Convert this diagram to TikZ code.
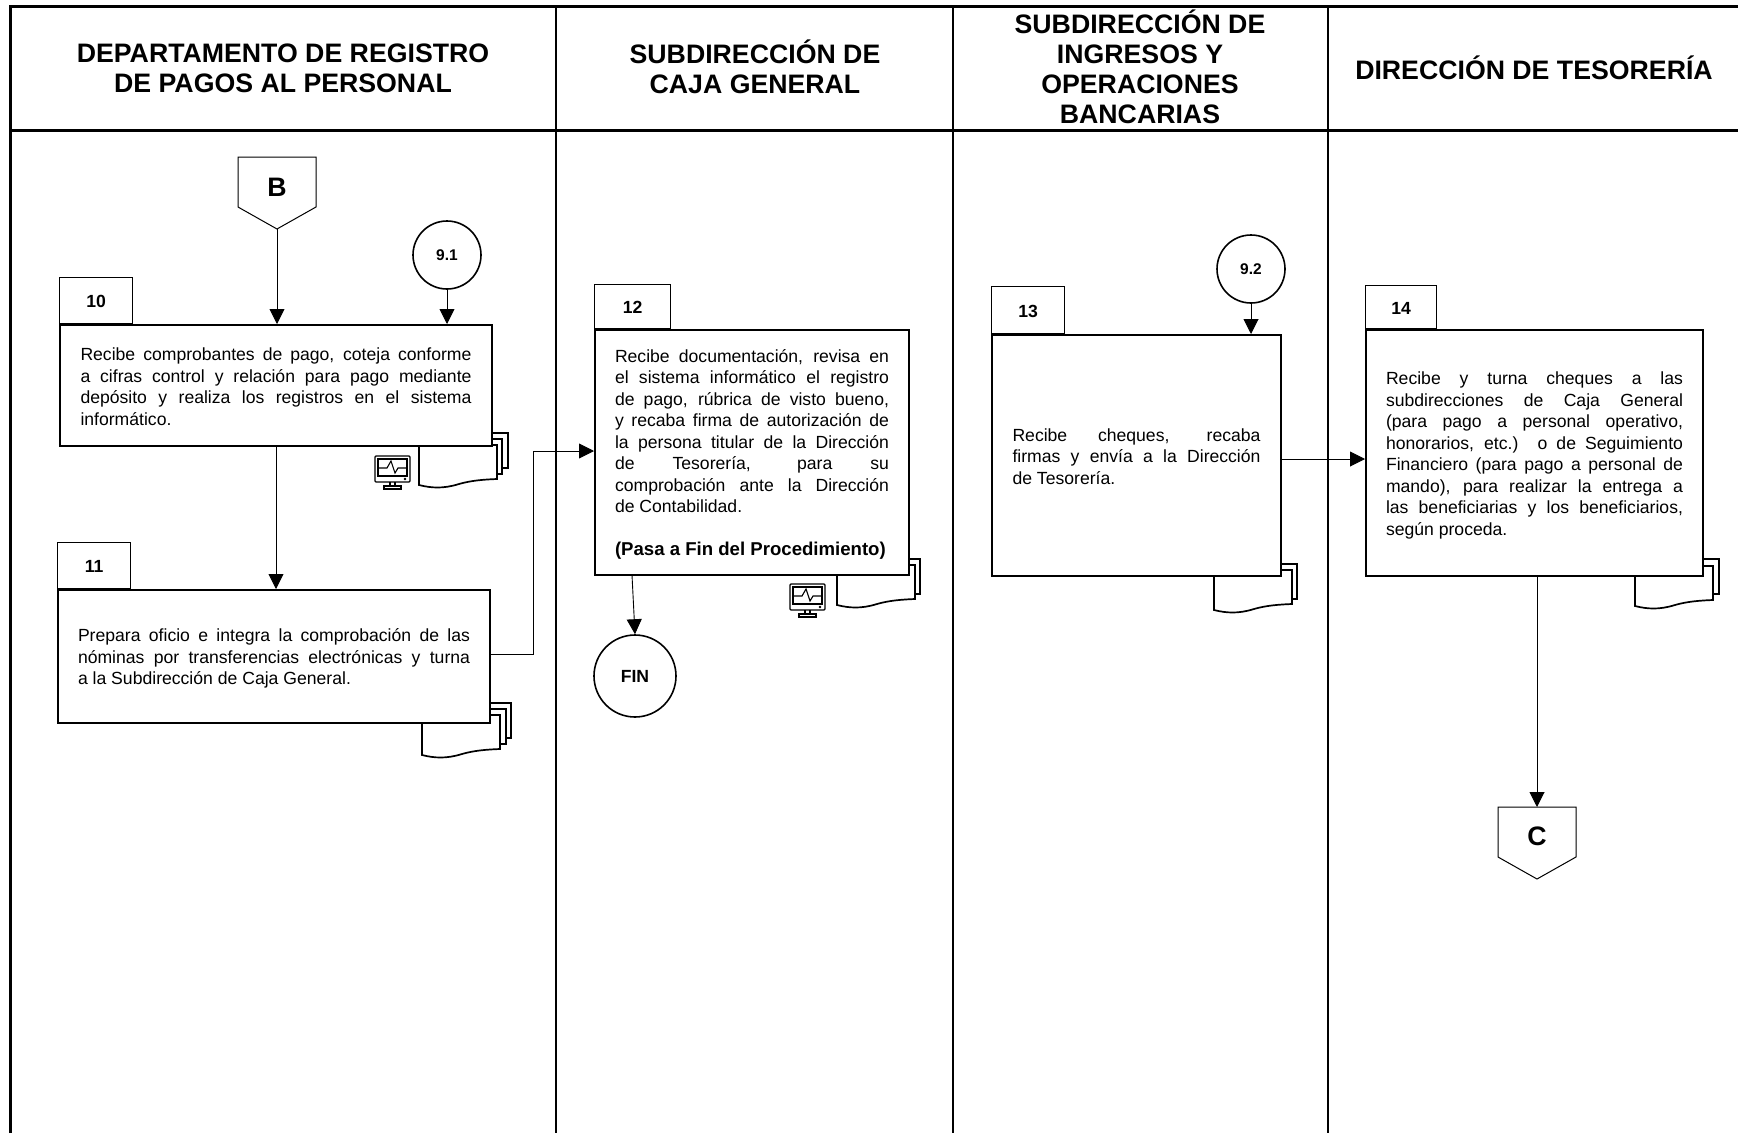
\documentclass[tikz,border=0pt]{standalone}
\usepackage{fontspec}
\setmainfont{Liberation Sans}
\usetikzlibrary{arrows.meta,calc}
\tikzset{
  actbox/.style={draw,line width=2pt,fill=white,inner sep=0pt},
  acttext/.style={align=justify,inner sep=0pt},
  tabbox/.style={draw,line width=1.2pt,fill=white,inner sep=0pt,anchor=south west,text height=15pt,text depth=0pt,font=\bfseries},
  headtext/.style={align=center,inner sep=0pt,font=\fontsize{26.7}{30}\selectfont\bfseries},
  joinpt/.style={draw,line width=1.6pt,circle,fill=white,inner sep=0pt,minimum size=68pt,font=\fontsize{15.5}{16}\selectfont\bfseries},
  pagetext/.style={inner sep=0pt,font=\fontsize{26.7}{30}\selectfont\bfseries},
  flow/.style={line width=0.9pt,-{Triangle[length=15pt,width=15pt]}},
  docline/.style={line width=1.7pt,fill=white},
  pageline/.style={line width=1pt,fill=white},
  iconline/.style={line width=1.1pt}
}
% back sheets and the front one with a wavy lower edge
\newcommand{\docfront}[2]{
  \draw [docline,shift={(#1,#2)}] (0,0) -- (78,0) -- (78,34) .. controls (65,34.5) and (52,35.5) .. (40,39) .. controls (24,44) and (12,43) .. (0,40) -- cycle;
}
\newcommand{\docback}[4]{
  \draw [docline,shift={(#1,#2)}] (60,#4) -- (#3,#4) -- (#3,#4+35) -- (60,#4+35) -- cycle;
}
\newcommand{\monitor}[2]{
  \begin{scope}[shift={(#1,#2)}]
    \draw [iconline,rounded corners=1pt] (0,0) rectangle (35,26);
    \draw [iconline] (3,3) rectangle (32,20);
    \draw [iconline] (3,12) -- (12,12) -- (16,5) -- (20,17) -- (23,12) -- (32,12);
    \draw [iconline] (15,26) -- (15,30) (20,26) -- (20,30);
    \draw [iconline] (9,30) rectangle (26,33);
    \fill (30,23) circle (1.3pt);
  \end{scope}
}
\begin{document}
\begin{tikzpicture}[x=1pt,y=-1pt]
    \useasboundingbox (0,0) rectangle (1738,1133);
    \fontsize{17.6}{21.5}\selectfont

    % table
    \draw [line width=3pt] (10,1133) -- (10,6) -- (1738,6);
    \draw [line width=3pt] (10,130) -- (1738,130);
    \draw [line width=2pt] (556,6) -- (556,1133);
    \draw [line width=2pt] (953,6) -- (953,1133);
    \draw [line width=2pt] (1328,6) -- (1328,1133);
    \node [headtext] (head1) at (283,68.5) {DEPARTAMENTO DE REGISTRO\\DE PAGOS AL PERSONAL};
    \node [headtext] (head2) at (755,66.5) {SUBDIRECCIÓN DE\\CAJA GENERAL};
    \node [headtext] (head3) at (1140,67) {SUBDIRECCIÓN DE\\INGRESOS Y\\OPERACIONES\\BANCARIAS};
    \node [headtext] (head4) at (1534,67.5) {DIRECCIÓN DE TESORERÍA};

    \docback{419}{445}{89}{-12}
    \docback{419}{445}{83}{-6}
    \docfront{419}{445}
    \docback{422}{715}{89}{-12}
    \docback{422}{715}{84}{-6}
    \docfront{422}{715}
    \docback{837}{565}{83}{-6}
    \docfront{837}{565}
    \docback{1214}{570}{83}{-6}
    \docfront{1214}{570}
    \docback{1635}{566}{84}{-7}
    \docfront{1635}{566}

    \node [actbox,minimum width=432pt,minimum height=121pt] (box10) at (276,385.5) {};
    \node [acttext,text width=391pt] (text10) at (276,386.5) {Recibe comprobantes de pago, coteja conforme\linebreak a cifras control y relación para pago mediante\linebreak depósito y realiza los registros en el sistema\linebreak informático.};
    \node [tabbox,minimum width=73pt,minimum height=46pt] (tab10) at (box10.north west) {10};
    \node [actbox,minimum width=432pt,minimum height=133pt] (box11) at (274,656.5) {};
    \node [acttext,text width=392pt] (text11) at (274,658.5) {Prepara oficio e integra la comprobación de las\linebreak nóminas por transferencias electrónicas y turna\linebreak a la Subdirección de Caja General.};
    \node [tabbox,minimum width=73pt,minimum height=46pt] (tab11) at (box11.north west) {11};
    \node [actbox,minimum width=314pt,minimum height=245pt] (box12) at (752,452.5) {};
    \node [acttext,text width=274pt] (text12) at (752,454.5) {Recibe documentación, revisa en\linebreak el sistema informático el registro\linebreak de pago, rúbrica de visto bueno,\linebreak y recaba firma de autorización de\linebreak la persona titular de la Dirección\linebreak de Tesorería, para su\linebreak comprobación ante la Dirección\linebreak de Contabilidad.\\[21.5pt]\textbf{\fontsize{18.6}{21.5}\selectfont(Pasa a Fin del Procedimiento)}};
    \node [tabbox,minimum width=76pt,minimum height=44pt] (tab12) at (box12.north west) {12};
    \node [actbox,minimum width=289pt,minimum height=241pt] (box13) at (1136.5,455.5) {};
    \node [acttext,text width=248pt] (text13) at (1136.5,456.5) {Recibe cheques, recaba\linebreak firmas y envía a la Dirección\linebreak de Tesorería.};
    \node [tabbox,minimum width=73pt,minimum height=47pt] (tab13) at (box13.north west) {13};
    \node [actbox,minimum width=337pt,minimum height=246pt] (box14) at (1534.5,453) {};
    \node [acttext,text width=297pt] (text14) at (1534.5,455.5) {Recibe y turna cheques a las\linebreak subdirecciones de Caja General\linebreak (para pago a personal operativo,\linebreak honorarios, etc.) o de Seguimiento\linebreak Financiero (para pago a personal de\linebreak mando), para realizar la entrega a\linebreak las beneficiarias y los beneficiarios,\linebreak según proceda.};
    \node [tabbox,minimum width=71pt,minimum height=43pt] (tab14) at (box14.north west) {14};

    \monitor{375}{456}
    \monitor{790}{584}

    % off page marks
    \draw [pageline] (238,157) -- (316,157) -- (316,207) -- (277,229) coordinate (tipB) -- (238,207) -- cycle;
    \node [pagetext] (markB) at (277,187) {B};
    \draw [pageline] (1498,807) -- (1537,807) coordinate (inC) -- (1576,807) -- (1576,857) -- (1537,879) -- (1498,857) -- cycle;
    \node [pagetext] (markC) at (1537,836) {C};

    \node [joinpt] (join91) at (447,255) {9.1};
    \node [joinpt] (join92) at (1251,269) {9.2};
    \node [joinpt,minimum size=82pt,font=\bfseries] (fin) at (635,676) {FIN};

    \draw [flow] (tipB) -- (tipB |- box10.north);
    \draw [flow] (join91) -- (join91 |- box10.north);
    \draw [flow] (box10.south) -- (box10.south |- box11.north);
    \coordinate (out11) at (box11.east |- 0,654);
    \coordinate (in12) at (box12.west |- 0,451);
    \draw [flow] (out11) -- (533,654) -- (533,451) -- (in12);
    \coordinate (out12) at (632,575);
    \draw [flow] (out12) -- (fin.north);
    \draw [flow] (join92) -- (join92 |- box13.north);
    \coordinate (out13) at (box13.east |- 0,459);
    \draw [flow] (out13) -- (out13 -| box14.west);
    \draw [flow] (inC |- box14.south) -- (inC);
\end{tikzpicture}
\end{document}
